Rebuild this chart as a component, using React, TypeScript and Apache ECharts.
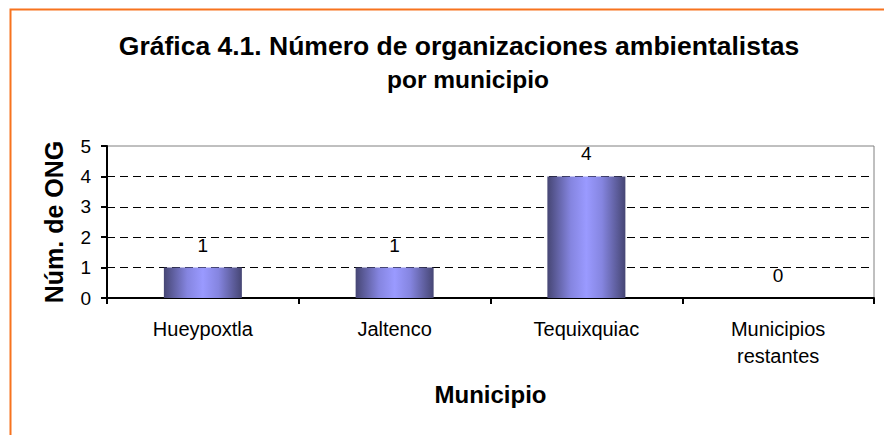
import React, { useEffect, useRef } from "react";
import * as echarts from "echarts";

const categories = ["Hueypoxtla", "Jaltenco", "Tequixquiac", "Municipios\nrestantes"];
const values = [1, 1, 4, 0];
const yTicks = { min: 0, max: 5, interval: 1 };
const titleLine1 = "Gráfica 4.1. Número de organizaciones ambientalistas";
const titleLine2 = "por municipio";
const xName = "Municipio";
const yName = "Núm. de ONG";

const FONT = 'Arial, "Liberation Sans", sans-serif';

export default function App() {
  const ref = useRef<HTMLDivElement>(null);
  useEffect(() => {
    if (!ref.current) return;
    const chart = echarts.init(ref.current, undefined, { renderer: "svg" });
    const barColor = new echarts.graphic.LinearGradient(0, 0, 1, 0, [
      { offset: 0, color: "#464674" },
      { offset: 0.3, color: "#8585e0" },
      { offset: 0.5, color: "#9a9aff" },
      { offset: 0.7, color: "#8585e0" },
      { offset: 1, color: "#464674" },
    ]);
    chart.setOption({
      animation: false,
      backgroundColor: "#ffffff",
      textStyle: { fontFamily: FONT },
      title: [
        {
          text: titleLine1,
          left: 454,
          top: 25,
          textAlign: "center",
          textStyle: { fontFamily: FONT, fontSize: 26.5, fontWeight: "bold", color: "#000", lineHeight: 32 },
        },
        {
          text: titleLine2,
          left: 463,
          top: 58,
          textAlign: "center",
          textStyle: { fontFamily: FONT, fontSize: 24.5, fontWeight: "bold", color: "#000", lineHeight: 32 },
        },
      ],
      graphic: [
        {
          type: "polyline",
          shape: { points: [[10.5, 1000], [10.5, 9.5], [884, 9.5]] },
          style: { fill: "none", stroke: "#F7731E", lineWidth: 2 },
          silent: true,
        },
      ],
      grid: {
        left: 107,
        right: 10,
        top: 146,
        bottom: 137,
        show: true,
        borderColor: "#808080",
        borderWidth: 1,
        backgroundColor: "#ffffff",
      },
      xAxis: {
        type: "category",
        data: categories,
        boundaryGap: true,
        name: xName,
        nameLocation: "middle",
        nameGap: 84,
        nameTextStyle: { fontFamily: FONT, fontSize: 24, fontWeight: "bold", color: "#000" },
        axisLine: { show: true, lineStyle: { color: "#000", width: 2 } },
        axisTick: { show: true, length: 6, lineStyle: { color: "#000", width: 2 } },
        axisLabel: { fontFamily: FONT, fontSize: 20, color: "#000", margin: 17, lineHeight: 27, interval: 0 },
        splitLine: { show: false },
      },
      yAxis: {
        type: "value",
        min: yTicks.min,
        max: yTicks.max,
        interval: yTicks.interval,
        name: yName,
        nameLocation: "middle",
        nameGap: 41,
        nameTextStyle: { fontFamily: FONT, fontSize: 25, fontWeight: "bold", color: "#000" },
        axisLine: { show: true, lineStyle: { color: "#000", width: 2 } },
        axisTick: { show: true, length: 6, lineStyle: { color: "#000", width: 2 } },
        axisLabel: { fontFamily: FONT, fontSize: 19, color: "#000", margin: 16 },
        splitLine: {
          show: true,
          lineStyle: {
            color: ["#000", "#000", "#000", "#000", "#000", "rgba(0,0,0,0)"],
            type: [8, 5],
            width: 1,
          },
        },
      },
      series: [
        {
          type: "bar",
          data: values,
          barWidth: 78,
          itemStyle: { color: barColor },
          label: {
            show: true,
            position: "top",
            distance: 13,
            fontFamily: FONT,
            fontSize: 19,
            color: "#000",
          },
        },
      ],
    });
    return () => chart.dispose();
  }, []);
  return (
    <div
      ref={ref}
      style={{ position: "absolute", left: 0, top: 0, width: 884, height: 435, background: "#fff" }}
    />
  );
}
